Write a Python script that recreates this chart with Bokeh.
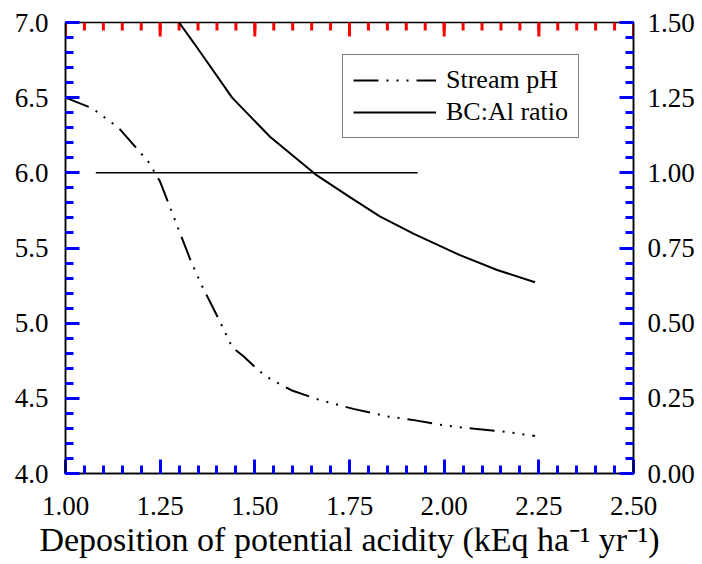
import numpy as np
from bokeh.plotting import figure
from bokeh.models import LinearAxis, Range1d, FixedTicker, Legend, LegendItem
from bokeh.embed import file_html
from bokeh.resources import INLINE

# ---- data ----
ph_x = [1.00, 1.07, 1.14, 1.22, 1.25, 1.29, 1.33, 1.36, 1.41, 1.44, 1.47, 1.51,
        1.54, 1.60, 1.67, 1.76, 1.85, 1.92, 2.00, 2.08, 2.16, 2.24]
ph_y = [6.50, 6.43, 6.30, 6.07, 5.94, 5.68, 5.42, 5.25, 5.00, 4.84, 4.78, 4.685,
        4.63, 4.55, 4.49, 4.43, 4.38, 4.355, 4.32, 4.297, 4.278, 4.25]

ratio_x = [1.30, 1.34, 1.44, 1.54, 1.66, 1.75, 1.83, 1.92, 2.04, 2.14, 2.24]
ratio_y = [1.50, 1.43, 1.25, 1.12, 0.995, 0.92, 0.855, 0.797, 0.727, 0.677, 0.636]

ref_x = [1.08, 1.93]
ref_y = [6.0, 6.0]

x_ticks = [1.00, 1.25, 1.50, 1.75, 2.00, 2.25, 2.50]
x_labels = ["1.00", "1.25", "1.50", "1.75", "2.00", "2.25", "2.50"]
ph_ticks = [4.0, 4.5, 5.0, 5.5, 6.0, 6.5, 7.0]
ph_labels = ["4.0", "4.5", "5.0", "5.5", "6.0", "6.5", "7.0"]
ratio_ticks = [0.00, 0.25, 0.50, 0.75, 1.00, 1.25, 1.50]
ratio_labels = ["0.00", "0.25", "0.50", "0.75", "1.00", "1.25", "1.50"]

series_names = ["Stream pH", "BC:Al ratio"]
x_title = "Deposition of potential acidity (kEq ha\u207b\u00b9 yr\u207b\u00b9)"

FONT = "Liberation Serif"
X0, X1 = 1.0, 2.5
Y0, Y1 = 4.0, 7.0
R0, R1 = 0.0, 1.5

W, H = 702, 564
BL, BR, BT, BB = 65, 69, 22, 91
FW, FH = W - BL - BR, H - BT - BB

p = figure(width=W, height=H, x_range=Range1d(X0, X1), y_range=Range1d(Y0, Y1),
           output_backend="svg", toolbar_location=None,
           min_border_left=BL, min_border_right=BR, min_border_top=BT, min_border_bottom=BB)
p.extra_y_ranges = {"ratio": Range1d(R0, R1)}
p.xgrid.grid_line_color = None
p.ygrid.grid_line_color = None
p.outline_line_color = "black"
p.outline_line_width = 1.5

x_minor = [float(round(v, 3)) for v in np.arange(X0, X1 + 1e-6, 0.05)]
ph_minor = [float(round(v, 3)) for v in np.arange(Y0, Y1 + 1e-6, 0.1)]
ratio_minor = [float(round(v, 3)) for v in np.arange(R0, R1 + 1e-6, 0.05)]

MAJ, MIN = 14, 8


def style(ax):
    ax.axis_line_color = "black"
    ax.axis_line_width = 1.5
    ax.major_tick_line_color = "blue"
    ax.minor_tick_line_color = "blue"
    ax.major_tick_line_width = 3
    ax.minor_tick_line_width = 3
    ax.major_tick_in = MAJ
    ax.minor_tick_in = MIN
    ax.major_tick_out = 0
    ax.minor_tick_out = 0
    ax.major_label_text_font = FONT
    ax.major_label_text_font_size = "27px"
    ax.major_label_text_color = "black"


xb = p.xaxis[0]
style(xb)
xb.ticker = FixedTicker(ticks=x_ticks, minor_ticks=x_minor)
xb.major_label_overrides = dict(zip(x_ticks, x_labels))
xb.major_label_standoff = 23
xb.axis_label = x_title
xb.axis_label_text_font = FONT
xb.axis_label_text_font_size = "34px"
xb.axis_label_text_font_style = "normal"
xb.axis_label_text_color = "black"
xb.axis_label_standoff = 3

yl = p.yaxis[0]
style(yl)
yl.ticker = FixedTicker(ticks=ph_ticks, minor_ticks=ph_minor)
yl.major_label_overrides = dict(zip(ph_ticks, ph_labels))
yl.major_label_standoff = 17

yr = LinearAxis(y_range_name="ratio")
style(yr)
yr.ticker = FixedTicker(ticks=ratio_ticks, minor_ticks=ratio_minor)
yr.major_label_overrides = dict(zip(ratio_ticks, ratio_labels))
yr.major_label_standoff = 14
p.add_layout(yr, "right")

dx = (X1 - X0) / FW
dy = (Y1 - Y0) / FH
NAN = float("nan")


def tick_path_x(xs, ypos, length):
    px, py = [], []
    for v in xs:
        px += [v, v, NAN]
        py += [ypos, ypos + length, NAN]
    return px, py


def tick_path_y(ys, xpos, length):
    px, py = [], []
    for v in ys:
        px += [xpos, xpos + length, NAN]
        py += [v, v, NAN]
    return px, py


TK = dict(line_color="red", line_width=3)
for xs_, ys_ in [tick_path_x(x_minor, Y1, -MIN * dy), tick_path_x(x_ticks, Y1, -MAJ * dy)]:
    p.line(xs_, ys_, **TK)

r_ref = p.line(ref_x, ref_y, line_color="black", line_width=1.5)
r_ph = p.line(ph_x, ph_y, line_color="black", line_width=2, line_dash="25 8 2 8 2 8 2 8")
r_ratio = p.line(ratio_x, ratio_y, line_color="black", line_width=2, y_range_name="ratio")

legend = Legend(items=[LegendItem(label=series_names[0], renderers=[r_ph]),
                       LegendItem(label=series_names[1], renderers=[r_ratio])],
                location=(277, 335))
legend.border_line_color = "black"
legend.border_line_width = 1.5
legend.background_fill_color = "white"
legend.background_fill_alpha = 1
legend.label_text_font = FONT
legend.label_text_font_size = "26px"
legend.label_text_color = "black"
legend.glyph_width = 83
legend.glyph_height = 30
legend.label_height = 30
legend.label_standoff = 10
legend.padding = 10
legend.spacing = 2
legend.margin = 0
p.add_layout(legend, "center")

open("out.html", "w").write(file_html(p, INLINE))
